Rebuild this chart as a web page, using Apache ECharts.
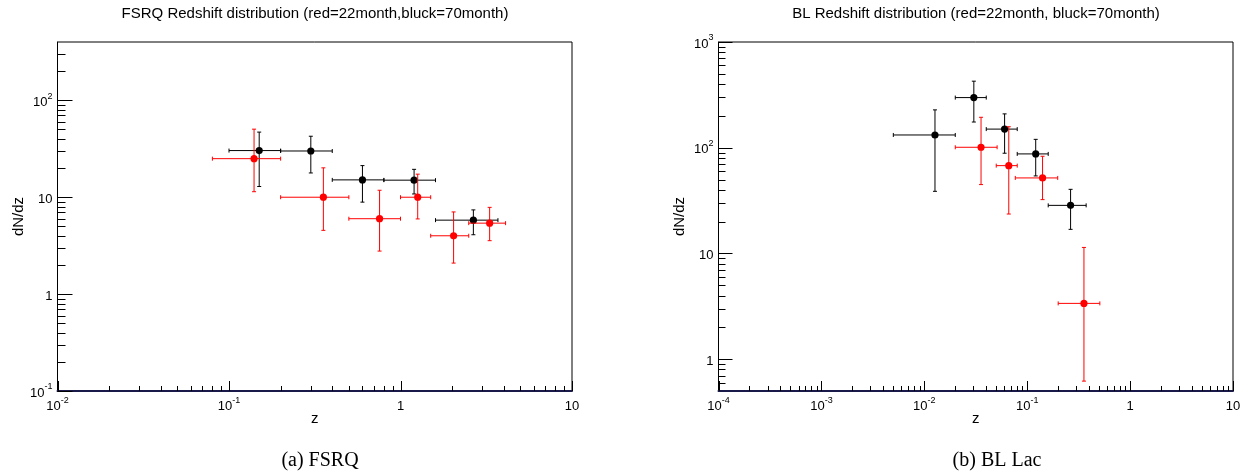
<!DOCTYPE html>
<html>
<head>
<meta charset="utf-8">
<script src="https://cdn.jsdelivr.net/npm/echarts@6/dist/echarts.min.js"></script>
<style>
html,body{margin:0;padding:0;background:#fff;}
#chart{width:1255px;height:474px;}
</style>
</head>
<body>
<div id="chart"></div>
<script>
// ---------- FSRQ (left panel) ----------
const fsrqBlackZ   = [0.15, 0.30, 0.60, 1.20, 2.66];
const fsrqBlackZLo = [0.10, 0.20, 0.40, 0.80, 1.60];
const fsrqBlackZHi = [0.20, 0.40, 0.80, 1.60, 3.70];
const fsrqBlackN   = [30.3, 30.0, 15.1, 15.0, 5.8];
const fsrqBlackNLo = [12.9, 17.8, 8.9, 10.8, 4.1];
const fsrqBlackNHi = [47.0, 42.6, 21.2, 19.4, 7.4];

const fsrqRedZ   = [0.14, 0.355, 0.755, 1.26, 2.04, 3.31];
const fsrqRedZLo = [0.08, 0.20, 0.50, 1.00, 1.50, 2.50];
const fsrqRedZHi = [0.20, 0.50, 1.00, 1.50, 2.50, 4.10];
const fsrqRedN   = [25.0, 10.0, 6.0, 10.0, 4.0, 5.4];
const fsrqRedNLo = [11.4, 4.55, 2.78, 5.97, 2.09, 3.56];
const fsrqRedNHi = [50.4, 20.1, 11.8, 17.3, 7.05, 7.86];

// ---------- BL Lac (right panel) ----------
const blBlackZ   = [0.0127, 0.0303, 0.0603, 0.121, 0.264];
const blBlackZLo = [0.005, 0.02, 0.04, 0.08, 0.16];
const blBlackZHi = [0.02, 0.04, 0.08, 0.16, 0.374];
const blBlackN   = [132, 298, 150, 87.4, 28.5];
const blBlackNLo = [38.7, 175, 88.7, 54.1, 16.9];
const blBlackNHi = [228, 426, 209, 120, 40.4];

const blRedZ   = [0.0356, 0.0662, 0.141, 0.356];
const blRedZLo = [0.02, 0.05, 0.0766, 0.20];
const blRedZHi = [0.051, 0.08, 0.198, 0.508];
const blRedN   = [101, 67.7, 51.8, 3.37];
const blRedNLo = [44.8, 23.6, 32.3, 0.62];
const blRedNHi = [194, 158, 83, 11.4];

// ---------- axes ----------
const fsrqXRange = [0.01, 10];
const fsrqYRange = [0.1, 400];
const blXRange = [0.0001, 10];
const blYRange = [0.5, 1000];
const minorMultipliers = [2, 3, 4, 5, 6, 7, 8, 9];
const fsrqXDecades = [0.01, 0.1, 1, 10];
const fsrqYDecades = [0.1, 1, 10, 100];
const blXDecades = [0.0001, 0.001, 0.01, 0.1, 1, 10];
const blYDecades = [0.1, 1, 10, 100, 1000];

const titles = ['FSRQ Redshift distribution (red=22month,bluck=70month)',
                'BL Redshift distribution (red=22month, bluck=70month)'];
const captions = ['(a) FSRQ', '(b) BL Lac'];

function ticksFor(decades, range) {
  const out = [];
  decades.forEach(d => {
    if (d >= range[0] * 0.9999 && d <= range[1] * 1.0001) out.push([d, 1]);
    minorMultipliers.forEach(m => {
      const v = d * m;
      if (v > range[0] * 1.0001 && v < range[1] * 0.9999) out.push([v, 0]);
    });
  });
  return out;
}

function pts(z, zlo, zhi, n, nlo, nhi) {
  return z.map((v, i) => [v, n[i], zlo[i], zhi[i], nlo[i], nhi[i]]);
}

function errRender(color) {
  return function (params, api) {
    const z = api.value(0), n = api.value(1);
    const c = api.coord([z, n]);
    const l = api.coord([api.value(2), n]);
    const r = api.coord([api.value(3), n]);
    const b = api.coord([z, api.value(4)]);
    const t = api.coord([z, api.value(5)]);
    const st = { stroke: color, lineWidth: 1 };
    const cap = 2;
    return {
      type: 'group',
      children: [
        { type: 'line', shape: { x1: l[0], y1: c[1], x2: r[0], y2: c[1] }, style: st },
        { type: 'line', shape: { x1: c[0], y1: t[1], x2: c[0], y2: b[1] }, style: st },
        { type: 'line', shape: { x1: l[0], y1: c[1] - cap, x2: l[0], y2: c[1] + cap }, style: st },
        { type: 'line', shape: { x1: r[0], y1: c[1] - cap, x2: r[0], y2: c[1] + cap }, style: st },
        { type: 'line', shape: { x1: c[0] - cap, y1: t[1], x2: c[0] + cap, y2: t[1] }, style: st },
        { type: 'line', shape: { x1: c[0] - cap, y1: b[1], x2: c[0] + cap, y2: b[1] }, style: st },
        { type: 'circle', shape: { cx: c[0], cy: c[1], r: 3.6 }, style: { fill: color } }
      ]
    };
  };
}

function yTickRender(xmin, majLen, minLen) {
  return function (params, api) {
    const p = api.coord([xmin, api.value(0)]);
    const y = Math.round(p[1]) + 0.5;
    const len = api.value(1) ? majLen : minLen;
    return { type: 'line', shape: { x1: p[0], y1: y, x2: p[0] + len, y2: y },
             style: { stroke: '#000', lineWidth: 1 } };
  };
}
function xTickRender(ymin, majLen, minLen) {
  return function (params, api) {
    const p = api.coord([api.value(0), ymin]);
    const x = Math.round(p[0]) + 0.5;
    const len = api.value(1) ? majLen : minLen;
    return { type: 'line', shape: { x1: x, y1: p[1], x2: x, y2: p[1] - len },
             style: { stroke: '#000', lineWidth: 1 } };
  };
}

function logLabel(v) {
  const e = Math.log10(v);
  const n = Math.round(e);
  if (Math.abs(e - n) > 1e-6) return '';
  if (n === 0) return '{b|1}';
  if (n === 1) return '{b|10}';
  return '{b|10}{s|' + n + '}';
}
const labelRich = {
  b: { fontSize: 13, lineHeight: 17, verticalAlign: 'bottom', fontFamily: 'Liberation Sans', color: '#000' },
  s: { fontSize: 9, lineHeight: 9, verticalAlign: 'top', fontFamily: 'Liberation Sans', color: '#000' }
};

function xAxisCfg(gi, range) {
  return {
    type: 'log', gridIndex: gi, min: range[0], max: range[1],
    name: 'z', nameLocation: 'middle', nameGap: 20, nameMoveOverlap: false,
    nameTextStyle: { fontFamily: 'Liberation Sans', fontSize: 15, color: '#000' },
    axisLine: { show: true, lineStyle: { color: '#1a1a4a', width: 2 } },
    axisTick: { show: false }, splitLine: { show: false }, minorTick: { show: false },
    axisLabel: { formatter: logLabel, rich: labelRich, margin: 5, showMinLabel: true, showMaxLabel: true, hideOverlap: false }
  };
}
function yAxisCfg(gi, range) {
  return {
    type: 'log', gridIndex: gi, min: range[0], max: range[1],
    name: 'dN/dz', nameLocation: 'middle', nameGap: 31, nameRotate: 90, nameMoveOverlap: false,
    nameTextStyle: { fontFamily: 'Liberation Sans', fontSize: 15, color: '#000' },
    axisLine: { show: true, lineStyle: { color: '#000', width: 1 } },
    axisTick: { show: false }, splitLine: { show: false }, minorTick: { show: false },
    axisLabel: { formatter: logLabel, rich: labelRich, margin: 5, showMinLabel: true, showMaxLabel: true, hideOverlap: false }
  };
}

const chart = echarts.init(document.getElementById('chart'), null, { renderer: 'canvas' });
chart.setOption({
  backgroundColor: '#ffffff',
  animation: false,
  grid: [
    { left: 57.5, top: 42, width: 514.5, height: 349, show: true, borderColor: '#000', borderWidth: 1, backgroundColor: 'transparent' },
    { left: 718.5, top: 42, width: 514.5, height: 349, show: true, borderColor: '#000', borderWidth: 1, backgroundColor: 'transparent' }
  ],
  xAxis: [xAxisCfg(0, fsrqXRange), xAxisCfg(1, blXRange)],
  yAxis: [yAxisCfg(0, fsrqYRange), yAxisCfg(1, blYRange)],
  graphic: [
    { type: 'text', x: 315, y: 14, style: { text: titles[0], textAlign: 'center', textVerticalAlign: 'middle', fontSize: 15, fontFamily: 'Liberation Sans', fill: '#000' } },
    { type: 'text', x: 976, y: 14, style: { text: titles[1], textAlign: 'center', textVerticalAlign: 'middle', fontSize: 15, fontFamily: 'Liberation Sans', fill: '#000' } },
    { type: 'text', x: 320, y: 461, style: { text: captions[0], textAlign: 'center', textVerticalAlign: 'middle', fontSize: 20, fontFamily: 'Liberation Serif', fill: '#000' } },
    { type: 'text', x: 997, y: 461, style: { text: captions[1], textAlign: 'center', textVerticalAlign: 'middle', fontSize: 20, fontFamily: 'Liberation Serif', fill: '#000' } }
  ],
  series: [
    { type: 'custom', name: 'fsrqYTicks', xAxisIndex: 0, yAxisIndex: 0, clip: false, silent: true,
      data: ticksFor(fsrqYDecades, fsrqYRange), encode: { y: 0 },
      renderItem: yTickRender(fsrqXRange[0], 15, 8) },
    { type: 'custom', name: 'fsrqXTicks', xAxisIndex: 0, yAxisIndex: 0, clip: false, silent: true,
      data: ticksFor(fsrqXDecades, fsrqXRange), encode: { x: 0 },
      renderItem: xTickRender(fsrqYRange[0], 10, 5) },
    { type: 'custom', name: 'blYTicks', xAxisIndex: 1, yAxisIndex: 1, clip: false, silent: true,
      data: ticksFor(blYDecades, blYRange), encode: { y: 0 },
      renderItem: yTickRender(blXRange[0], 14, 7) },
    { type: 'custom', name: 'blXTicks', xAxisIndex: 1, yAxisIndex: 1, clip: false, silent: true,
      data: ticksFor(blXDecades, blXRange), encode: { x: 0 },
      renderItem: xTickRender(blYRange[0], 10, 5) },
    { type: 'custom', name: 'FSRQ 70 month', xAxisIndex: 0, yAxisIndex: 0, clip: false,
      data: pts(fsrqBlackZ, fsrqBlackZLo, fsrqBlackZHi, fsrqBlackN, fsrqBlackNLo, fsrqBlackNHi),
      encode: { x: 0, y: 1 }, renderItem: errRender('#000000') },
    { type: 'custom', name: 'FSRQ 22 month', xAxisIndex: 0, yAxisIndex: 0, clip: false,
      data: pts(fsrqRedZ, fsrqRedZLo, fsrqRedZHi, fsrqRedN, fsrqRedNLo, fsrqRedNHi),
      encode: { x: 0, y: 1 }, renderItem: errRender('#ff0000') },
    { type: 'custom', name: 'BL 70 month', xAxisIndex: 1, yAxisIndex: 1, clip: false,
      data: pts(blBlackZ, blBlackZLo, blBlackZHi, blBlackN, blBlackNLo, blBlackNHi),
      encode: { x: 0, y: 1 }, renderItem: errRender('#000000') },
    { type: 'custom', name: 'BL 22 month', xAxisIndex: 1, yAxisIndex: 1, clip: false,
      data: pts(blRedZ, blRedZLo, blRedZHi, blRedN, blRedNLo, blRedNHi),
      encode: { x: 0, y: 1 }, renderItem: errRender('#ff0000') }
  ]
});
</script>
</body>
</html>
